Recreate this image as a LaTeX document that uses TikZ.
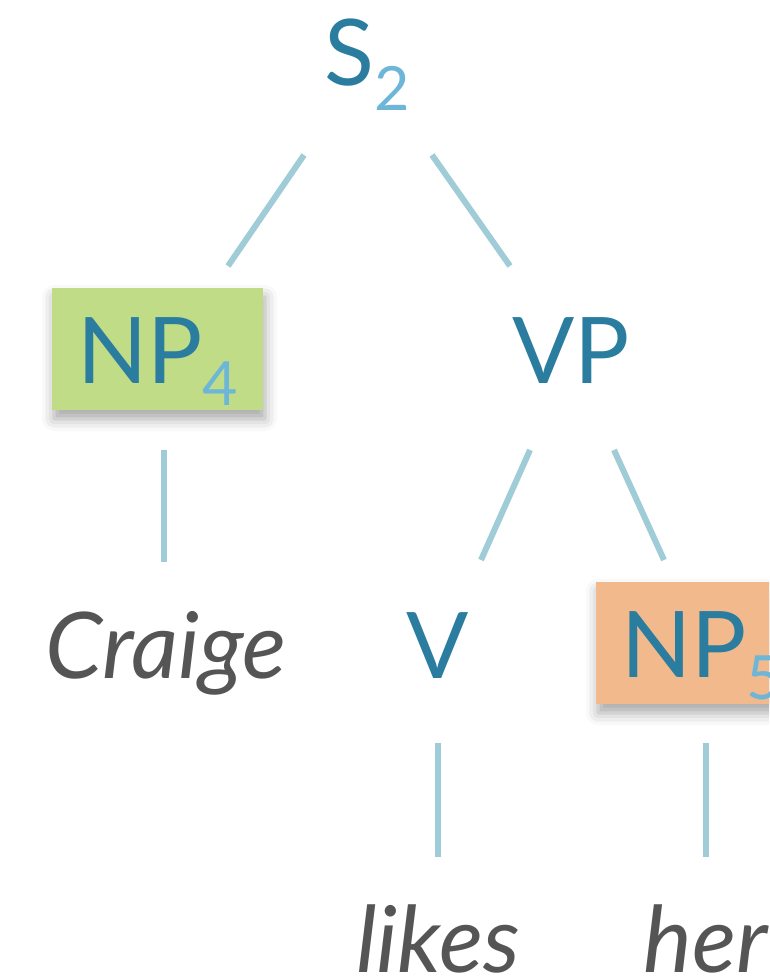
\documentclass[tikz,border=0pt]{standalone}
\usepackage{fontspec}
\setmainfont{Lato}
\usetikzlibrary{shadows.blur}
\definecolor{catc}{RGB}{43,125,160}
\definecolor{subc}{RGB}{110,182,215}
\definecolor{linec}{RGB}{160,204,216}
\definecolor{wordc}{RGB}{85,85,85}
\definecolor{greenc}{RGB}{192,220,134}
\definecolor{orangec}{RGB}{241,185,140}
\newcommand\subx[2][-24pt]{\raisebox{#1}{\fontsize{61}{61}\selectfont\color{subc}#2}}
\tikzset{
  cat/.style={inner sep=0pt, anchor=base, text=catc, font=\fontsize{92}{100}\selectfont},
  word/.style={inner sep=0pt, anchor=base, text=wordc, font=\fontsize{92}{100}\selectfont\itshape},
  npbox/.style={cat, minimum width=211pt, text height=68pt, text depth=0pt, inner ysep=27pt, inner xsep=0pt,
    blur shadow={shadow xshift=2pt, shadow yshift=-9pt, shadow blur radius=12pt, shadow opacity=35}},
  edge/.style={draw=linec, line width=6pt}
}
\begin{document}
\begin{tikzpicture}[x=1pt,y=1pt]
\useasboundingbox (0,0) rectangle (769,-977);
\clip (0,0) rectangle (769,-977);
% nodes
\node[cat] (s2) at (367,-85) {S\subx[-25pt]{2}};
\node[npbox, fill=greenc] (np4) at (157.5,-383) {NP\subx[-22pt]{4}};
\node[cat] (vp) at (571,-383) {VP};
\node[word] (craige) at (166,-678) {Craige};
\node[cat] (v) at (438,-678) {V};
\node[npbox, fill=orangec] (np5) at (701.5,-677) {NP\subx[-22pt]{5}};
\node[word] (likes) at (438,-972) {likes};
\node[word] (her) at (706,-972) {her};
% connector ends
\coordinate (s2-l) at (304,-155);
\coordinate (np4-t) at (228,-266);
\coordinate (s2-r) at (432,-155);
\coordinate (vp-t) at (510,-266);
\coordinate (np4-b) at (164,-450);
\coordinate (craige-t) at (164,-562);
\coordinate (vp-l) at (530,-450);
\coordinate (v-t) at (481,-560);
\coordinate (vp-r) at (614,-450);
\coordinate (np5-t) at (664,-560);
\coordinate (v-b) at (438,-743);
\coordinate (likes-t) at (438,-857);
\coordinate (np5-b) at (706,-743);
\coordinate (her-t) at (706,-857);
% connectors
\draw[edge] (s2-l) -- (np4-t);
\draw[edge] (s2-r) -- (vp-t);
\draw[edge] (np4-b) -- (craige-t);
\draw[edge] (vp-l) -- (v-t);
\draw[edge] (vp-r) -- (np5-t);
\draw[edge] (v-b) -- (likes-t);
\draw[edge] (np5-b) -- (her-t);
\end{tikzpicture}
\end{document}
